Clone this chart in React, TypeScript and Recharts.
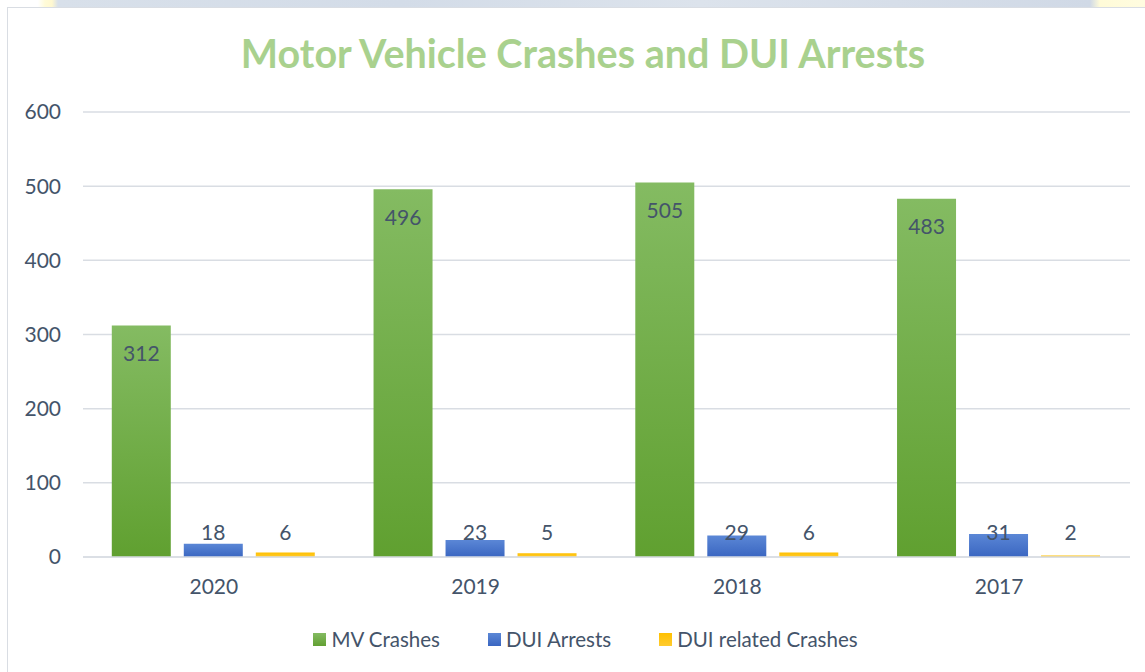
import React from 'react';
import { BarChart, Bar, XAxis, YAxis, CartesianGrid, Legend, LabelList } from 'recharts';

const years = ['2020', '2019', '2018', '2017'];
const mvCrashes = [312, 496, 505, 483];
const duiArrests = [18, 23, 29, 31];
const duiCrashes = [6, 5, 6, 2];
const yTicks = [0, 100, 200, 300, 400, 500, 600];

const seriesNames = ['MV Crashes', 'DUI Arrests', 'DUI related Crashes'];

const data = years.map((y, i) => ({
  year: y,
  mv: mvCrashes[i],
  arrests: duiArrests[i],
  related: duiCrashes[i],
}));

const FONT = 'Lato, "Open Sans", sans-serif';
const TEXT = '#44546A';

const insideTopLabel = (props: any) => {
  const { x, y, width, value } = props;
  return (
    <text x={x + width / 2} y={y + 27} textAnchor="middle" dominantBaseline="central"
      fill={TEXT} fontSize={21} fontFamily={FONT}>{value}</text>
  );
};

const baseLabel = (props: any) => {
  const { x, y, width, height, value } = props;
  return (
    <text x={x + width / 2} y={y + height - 26} textAnchor="middle" dominantBaseline="central"
      fill={TEXT} fontSize={21} fontFamily={FONT}>{value}</text>
  );
};

const legendColors = ['url(#gGreen)', 'url(#gBlue)', 'url(#gYellow)'];
const legendSolid = [
  'linear-gradient(#84BB62, #62A032)',
  'linear-gradient(#5B87D6, #3A66C1)',
  'linear-gradient(#FFC000, #FFCB2F)',
];

const renderLegend = () => (
  <div style={{ display: 'flex', justifyContent: 'center', gap: 48, paddingLeft: 18, fontFamily: FONT, fontSize: 20.5, color: TEXT }}>
    {seriesNames.map((n, i) => (
      <div key={n} style={{ display: 'flex', alignItems: 'center' }}>
        <span style={{ display: 'inline-block', width: 13, height: 13, background: legendSolid[i], marginRight: 5 }} />
        <span>{n}</span>
      </div>
    ))}
  </div>
);

export default function App() {
  return (
    <div style={{ position: 'absolute', left: 0, top: 0, width: 1145, height: 672, background: '#fff', overflow: 'hidden' }}>
      <div style={{ position: 'absolute', left: 0, top: 0, width: 1145, height: 7,
        background: 'linear-gradient(to right, #fff 0px, #fff 38px, #FFFBD8 45px, #FFF8D0 52px, #D8E0EA 58px, #D3DCE8 400px, #DCE3EC 700px, #D0D9E6 1090px, #FFFBD8 1100px, #FFFCE0 1145px)' }} />
      <div style={{ position: 'absolute', left: 7, top: 7, width: 1150, height: 680, border: '1.5px solid #D9DDE3', boxSizing: 'border-box' }} />
      <div style={{ position: 'absolute', left: 0, top: 29, width: 1166, textAlign: 'center', fontFamily: FONT,
        fontWeight: 700, fontSize: 39.5, color: '#A9D18E' }}>Motor Vehicle Crashes and DUI Arrests</div>
      <div style={{ position: 'absolute', left: 0, top: 0 }}>
        <BarChart width={1145} height={672} data={data} margin={{ top: 112, right: 15, left: 23, bottom: 21 }}
          barCategoryGap="11%" barGap={13}>
          <defs>
            <linearGradient id="gGreen" x1="0" y1="0" x2="0" y2="1">
              <stop offset="0%" stopColor="#84BB62" />
              <stop offset="100%" stopColor="#60A030" />
            </linearGradient>
            <linearGradient id="gBlue" x1="0" y1="0" x2="0" y2="1">
              <stop offset="0%" stopColor="#5B87D6" />
              <stop offset="100%" stopColor="#3A66C1" />
            </linearGradient>
            <linearGradient id="gYellow" x1="0" y1="0" x2="0" y2="1">
              <stop offset="0%" stopColor="#FFC000" />
              <stop offset="100%" stopColor="#FFCB2F" />
            </linearGradient>
          </defs>
          <CartesianGrid vertical={false} stroke="#D9DDE3" strokeWidth={1.5} />
          <XAxis dataKey="year" axisLine={{ stroke: '#D9DDE3', strokeWidth: 1.5 }} tickLine={false} tickSize={0} tickMargin={22}
            height={70} tick={{ fill: TEXT, fontSize: 21, fontFamily: FONT }} />
          <YAxis domain={[0, 600]} ticks={yTicks} axisLine={false} tickLine={false} tickSize={0} tickMargin={22}
            width={60} tick={{ fill: TEXT, fontSize: 21, fontFamily: FONT }} />
          <Legend verticalAlign="bottom" content={renderLegend} />
          <Bar dataKey="mv" name={seriesNames[0]} fill={legendColors[0]} isAnimationActive={false}>
            <LabelList dataKey="mv" content={insideTopLabel} />
          </Bar>
          <Bar dataKey="arrests" name={seriesNames[1]} fill={legendColors[1]} isAnimationActive={false}>
            <LabelList dataKey="arrests" content={baseLabel} />
          </Bar>
          <Bar dataKey="related" name={seriesNames[2]} fill={legendColors[2]} isAnimationActive={false}>
            <LabelList dataKey="related" content={baseLabel} />
          </Bar>
        </BarChart>
      </div>
    </div>
  );
}
